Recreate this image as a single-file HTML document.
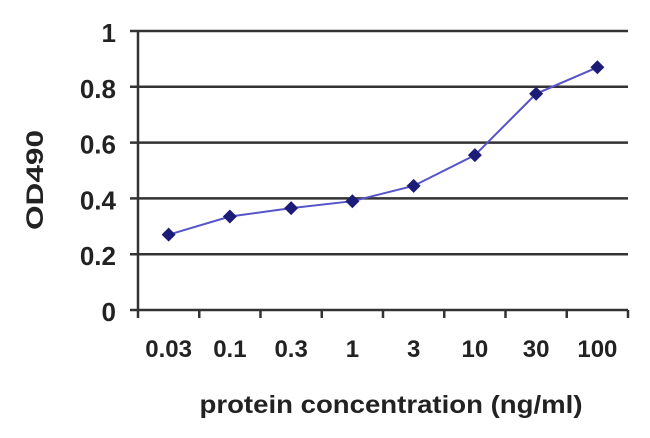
<!DOCTYPE html>
<html><head><meta charset="utf-8"><style>
body{margin:0;background:#fff;}
svg{display:block;font-family:"Liberation Sans",Arial,sans-serif;font-weight:bold;}
</style></head><body>
<svg id="chart" width="650" height="438"></svg>
<script>
const categories=["0.03","0.1","0.3","1","3","10","30","100"];
const values=[0.27,0.335,0.365,0.39,0.445,0.555,0.775,0.87];
const yTicks=[0,0.2,0.4,0.6,0.8,1];
const yTickLabels=["0","0.2","0.4","0.6","0.8","1"];
const NS="http://www.w3.org/2000/svg";
const svg=document.getElementById("chart");
const x0=138,x1=628,yTop=31,yBot=310;
const step=(x1-x0)/categories.length;
const xs=i=>x0+step*(i+0.5);
const ys=v=>yBot-(v)*(yBot-yTop);
function mk(t,a,txt){const e=document.createElementNS(NS,t);for(const k in a)e.setAttribute(k,a[k]);if(txt!==undefined)e.textContent=txt;svg.appendChild(e);return e;}
yTicks.forEach((v,i)=>{
 const g=mk("line",{x1:x0-8,x2:x1,y1:ys(v),y2:ys(v),stroke:"#333","stroke-width":2.5});
 
 
 const t=mk("text",{x:116,y:ys(v)+11,"text-anchor":"end","font-size":26,fill:"#222"},yTickLabels[i]);
 
 
});
const ax=mk("line",{x1:x0,x2:x0,y1:yTop,y2:yBot,stroke:"#333","stroke-width":2.5});


for(let i=0;i<=categories.length;i++){
 const tk=mk("line",{x1:x0+step*i,x2:x0+step*i,y1:yBot,y2:yBot+8,stroke:"#333","stroke-width":2.5});
 
 
}
categories.forEach((c,i)=>{
 const t=mk("text",{x:xs(i),y:357,"text-anchor":"middle","font-size":24,fill:"#222"},c);
 
 
});
const pl=mk("polyline",{points:values.map((v,i)=>xs(i)+","+ys(v)).join(" "),fill:"none",stroke:"#5555c8","stroke-width":2});


values.forEach((v,i)=>{
 const x=xs(i),y=ys(v);
 const m=mk("polygon",{points:`${x},${y-7} ${x+7},${y} ${x},${y+7} ${x-7},${y}`,fill:"#1c1c78"});
 
 
});
const yt=mk("text",{x:0,y:0,"text-anchor":"middle","font-size":24,fill:"#222",textLength:100,lengthAdjust:"spacingAndGlyphs",transform:"translate(43,180) rotate(-90)"},"OD490");


const xt=mk("text",{x:391,y:413,"text-anchor":"middle","font-size":25,fill:"#222",textLength:383,lengthAdjust:"spacingAndGlyphs"},"protein concentration (ng/ml)");


</script>
</body></html>
